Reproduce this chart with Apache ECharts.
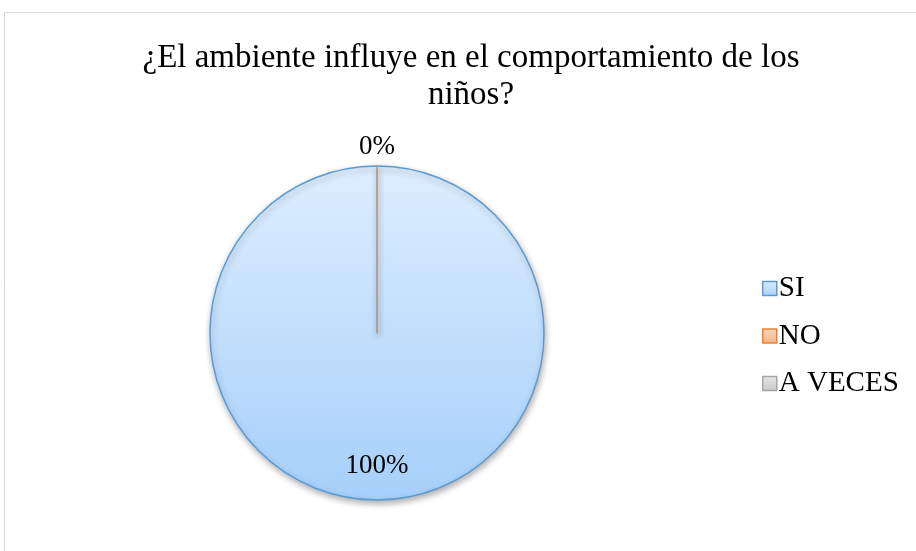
<!DOCTYPE html>
<html>
<head>
<meta charset="utf-8">
<script src="https://cdn.jsdelivr.net/npm/echarts@6/dist/echarts.min.js"></script>
<style>html,body{margin:0;padding:0;background:#fff;}#c{width:916px;height:551px;}</style>
</head>
<body>
<div id="c"></div>
<script>
const titleText = '¿El ambiente influye en el comportamiento de los\nniños?';
const categories = ['SI', 'NO', 'A VECES'];
const values = [100, 0, 0];
const borderColors = ['#5b9bd5', '#ed7d31', '#a5a5a5'];
const topColors = ['#deeefe', '#fbd9c4', '#e6e6e6'];
const bottomColors = ['#a6cffa', '#f4b183', '#c9c9c9'];

const FONT = '"Liberation Serif", "Times New Roman", serif';
const chart = echarts.init(document.getElementById('c'), null, {renderer: 'canvas'});

const data = categories.map((name, i) => ({
  name,
  value: values[i],
  itemStyle: {
    color: new echarts.graphic.LinearGradient(0, 0, 0, 1, [
      {offset: 0, color: topColors[i]},
      {offset: 1, color: bottomColors[i]}
    ]),
    borderColor: borderColors[i],
    borderWidth: i === 0 ? 1.5 : 1.2
  },
  label: i === 0 ? {offset: [0, 46]} : {offset: [0, -100]}
}));

chart.setOption({
  animation: false,
  backgroundColor: '#ffffff',
  graphic: [{
    type: 'rect',
    shape: {x: 4.5, y: 12.5, width: 940, height: 600},
    style: {fill: 'none', stroke: '#d9d9d9', lineWidth: 1},
    silent: true
  }],
  title: {
    text: titleText,
    left: 466,
    top: 35,
    textAlign: 'center',
    textStyle: {fontFamily: FONT, fontSize: 33, fontWeight: 'normal', color: '#000', lineHeight: 37}
  },
  legend: {
    orient: 'vertical',
    left: 757,
    top: 269,
    itemWidth: 14,
    itemHeight: 14,
    itemGap: 18.5,
    icon: 'rect',
    textStyle: {fontFamily: FONT, fontSize: 29, color: '#000', lineHeight: 29, padding: [0, 0, 0, -3]},
    data: categories.map((name, i) => ({
      name,
      itemStyle: {color: new echarts.graphic.LinearGradient(0, 0, 0, 1, [
        {offset: 0, color: topColors[i]}, {offset: 1, color: bottomColors[i]}]),
        borderColor: borderColors[i], borderWidth: 1.5}
    }))
  },
  series: [{
    type: 'pie',
    center: [377, 333],
    radius: [0, 167],
    startAngle: 90,
    clockwise: true,
    avoidLabelOverlap: false,
    data,
    label: {
      show: true,
      position: 'inside',
      formatter: p => Math.round(p.percent) + '%',
      fontFamily: FONT,
      fontSize: 27,
      color: '#000'
    },
    labelLine: {show: false},
    itemStyle: {shadowBlur: 6, shadowOffsetX: 1, shadowOffsetY: 3, shadowColor: 'rgba(0,0,0,0.3)'},
    emphasis: {disabled: true}
  }]
});
</script>
</body>
</html>
